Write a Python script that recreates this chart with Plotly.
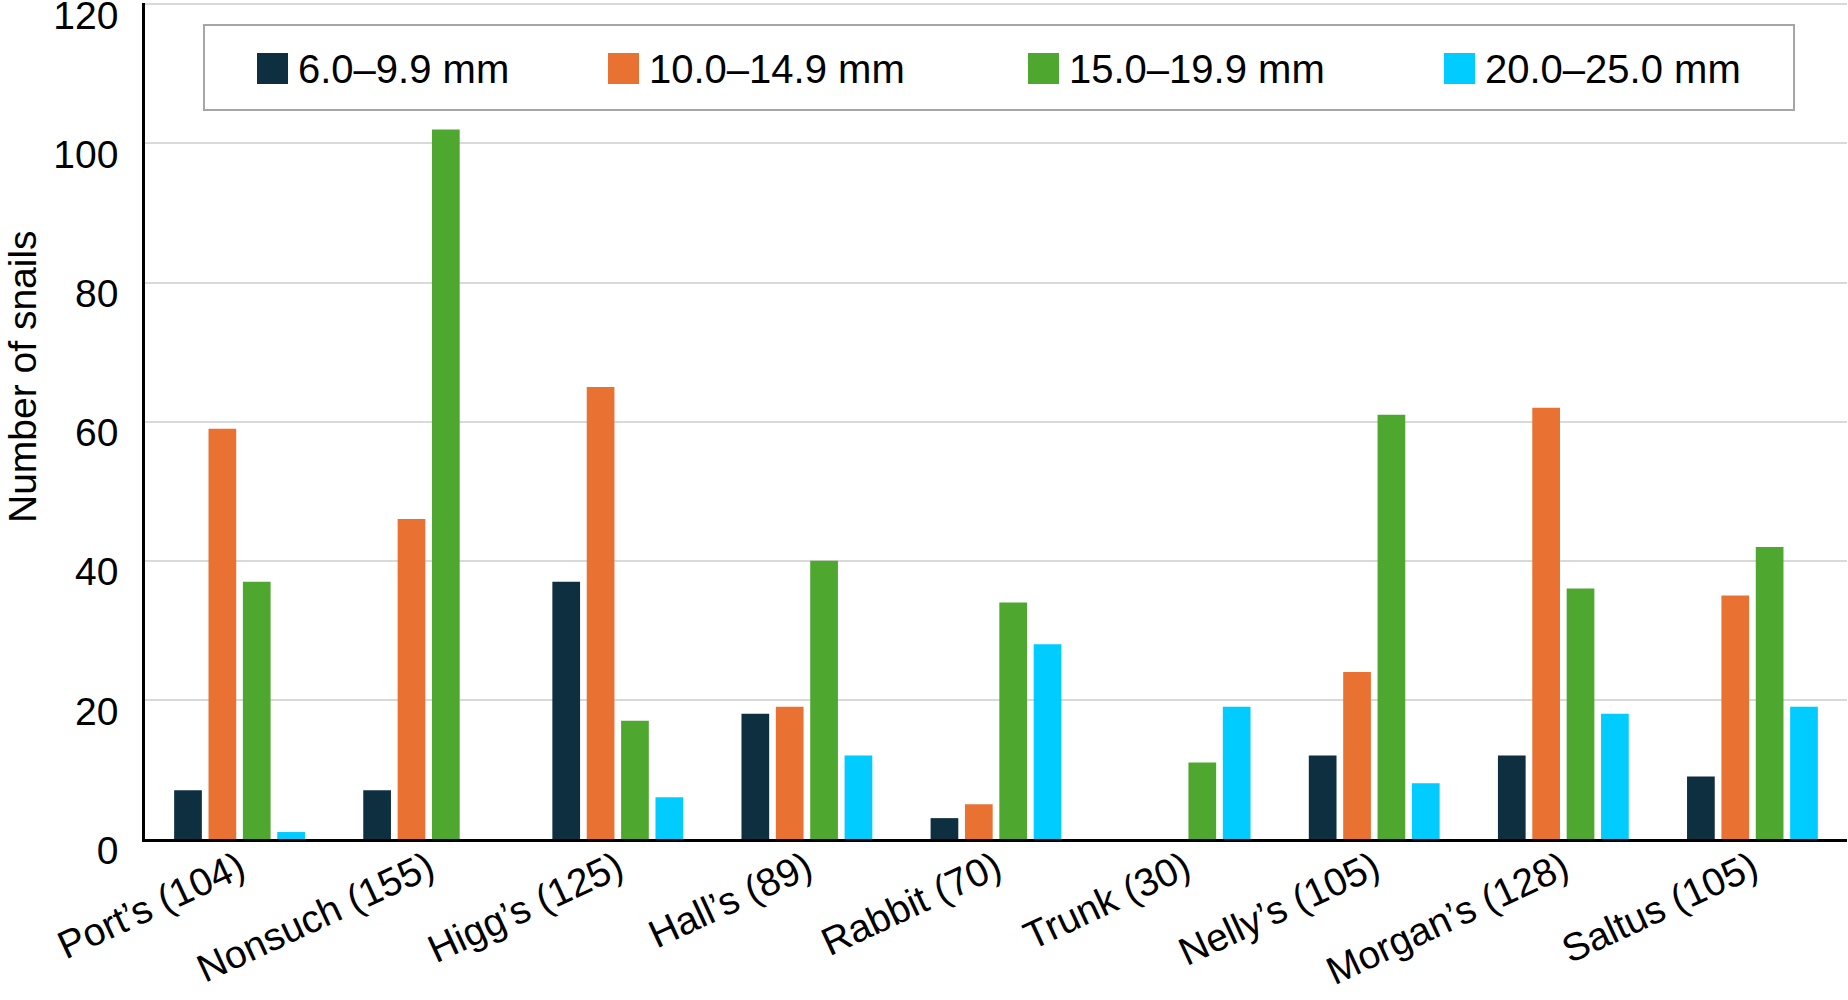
import plotly.graph_objects as go

# ---- data ----
sites = ["Port’s (104)", "Nonsuch (155)", "Higg’s (125)", "Hall’s (89)", "Rabbit (70)",
         "Trunk (30)", "Nelly’s (105)", "Morgan’s (128)", "Saltus (105)"]
size_classes = ["6.0–9.9 mm", "10.0–14.9 mm", "15.0–19.9 mm", "20.0–25.0 mm"]
s_6_9 = [7, 7, 37, 18, 3, 0, 12, 12, 9]
s_10_14 = [59, 46, 65, 19, 5, 0, 24, 62, 35]
s_15_19 = [37, 102, 17, 40, 34, 11, 61, 36, 42]
s_20_25 = [1, 0, 6, 12, 28, 19, 8, 18, 19]
y_ticks = [0, 20, 40, 60, 80, 100, 120]

series = [s_6_9, s_10_14, s_15_19, s_20_25]
colors = ["#0E2F40", "#E97132", "#4EA72E", "#00CCFF"]

FONT = "Liberation Sans, Arial, sans-serif"
W, H = 1848, 1000
ML, MR, MT, MB = 145, 1, 3, 161
PW, PH = W - ML - MR, H - MT - MB


def px_x(px):
    return (px - ML) / PW


def px_y(py):
    return (H - MB - py) / PH


fig = go.Figure()
for name, vals, col in zip(size_classes, series, colors):
    fig.add_trace(go.Bar(x=sites, y=vals, name=name, marker_color=col,
                         marker_line_width=0, showlegend=False))

# ---- manual legend (box, swatches, labels) ----
shapes = [dict(type="rect", xref="paper", yref="paper",
               x0=px_x(204), x1=px_x(1794), y0=px_y(110), y1=px_y(25),
               line=dict(color="#A6A6A6", width=2), fillcolor="white", layer="above")]
annotations = []
sw_left = [257, 608, 1028, 1444]
txt_left = [296, 647, 1067, 1483]
for name, col, sx, tx in zip(size_classes, colors, sw_left, txt_left):
    shapes.append(dict(type="rect", xref="paper", yref="paper",
                       x0=px_x(sx), x1=px_x(sx + 31), y0=px_y(84), y1=px_y(53),
                       line=dict(width=0), fillcolor=col, layer="above"))
    annotations.append(dict(text=name, xref="paper", yref="paper", x=px_x(tx), y=px_y(69),
                            xanchor="left", yanchor="middle", showarrow=False,
                            font=dict(family=FONT, size=40, color="black")))

annotations.append(dict(text="Number of snails", xref="paper", yref="paper",
                        x=px_x(23), y=px_y(377), textangle=-90, showarrow=False,
                        xanchor="center", yanchor="middle",
                        font=dict(family=FONT, size=39, color="black")))

fig.update_layout(
    width=W, height=H,
    margin=dict(l=ML, r=MR, t=MT, b=MB, pad=0, autoexpand=False),
    paper_bgcolor="white", plot_bgcolor="white",
    barmode="group", bargap=0.273, bargroupgap=0.194,
    font=dict(family=FONT, size=39, color="black"),
    shapes=shapes, annotations=annotations,
    xaxis=dict(showline=True, linecolor="black", linewidth=3, ticks="",
               tickangle=-25, tickfont=dict(size=39), showgrid=False,
               ticklabelstandoff=-12, automargin=False),
    yaxis=dict(range=[0, 120.2], tickvals=y_ticks, showline=True, linecolor="black",
               linewidth=2.5, showgrid=True, gridcolor="#D9D9D9", gridwidth=2,
               zeroline=False, ticks="", tickfont=dict(size=39),
               ticklabelstandoff=16, ticklabelshift=11, ticklabeloverflow="allow",
               automargin=False),
)

fig.write_html("out.html")
